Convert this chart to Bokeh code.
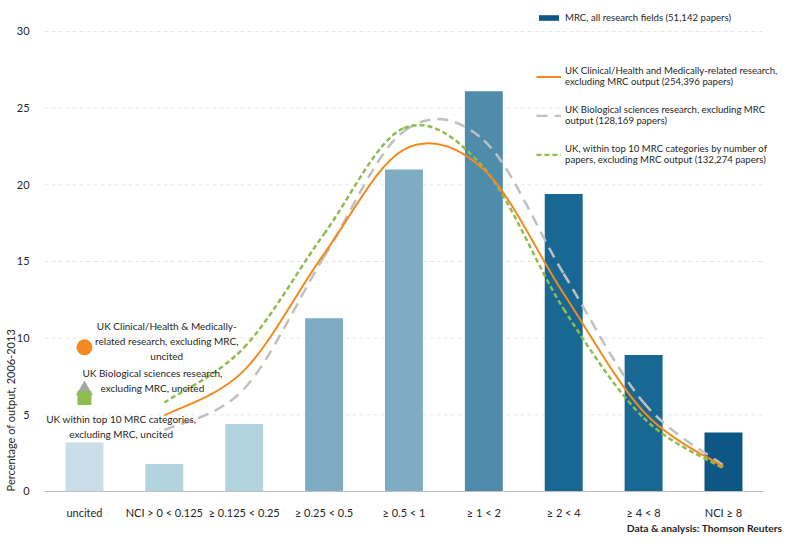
import math
from bokeh.plotting import figure
from bokeh.models import (ColumnDataSource, FixedTicker, Legend, LegendItem, Label, Range1d)
from bokeh.embed import file_html
from bokeh.resources import INLINE

# ---------------- data ----------------
categories = ["uncited", "NCI > 0 < 0.125", "\u2265 0.125 < 0.25", "\u2265 0.25 < 0.5",
              "\u2265 0.5 < 1", "\u2265 1 < 2", "\u2265 2 < 4", "\u2265 4 < 8", "NCI \u2265 8"]
mrc_values = [3.2, 1.8, 4.4, 11.3, 21.0, 26.1, 19.4, 8.9, 3.85]
bar_colors = ["#c8dde6", "#b3d3de", "#b3d3de", "#7eacc3", "#7eacc3",
              "#4f8bab", "#186893", "#186893", "#0d5785"]

clinical_uncited = [9.4]
bio_uncited = [6.6]
top10_uncited = [6.1]

clinical_cited = [4.96, 7.9, 15.5, 22.3, 21.0, 12.9, 5.2, 1.6]
bio_cited = [4.0, 6.7, 15.3, 23.5, 22.9, 14.2, 5.8, 1.7]
top10_cited = [5.8, 9.4, 16.8, 23.7, 21.1, 11.9, 4.8, 1.5]

y_ticks = [0, 5, 10, 15, 20, 25, 30]

legend_labels = [
    "MRC, all research fields (51,142 papers)",
    "UK Clinical/Health and Medically-related research,\nexcluding MRC output (254,396 papers)",
    "UK Biological sciences research, excluding MRC\noutput (128,169 papers)",
    "UK, within top 10 MRC categories by number of\npapers, excluding MRC output (132,274 papers)",
]
uncited_notes = [
    "UK Clinical/Health & Medically-\nrelated research, excluding MRC,\nuncited",
    "UK Biological sciences research,\nexcluding MRC, uncited",
    "UK within top 10 MRC categories,\nexcluding MRC, uncited",
]
y_title = "Percentage of output, 2006-2013"
credit = "Data & analysis: Thomson Reuters"

FONT = "Lato"
TXT = "#262626"

# category axis extent and value axis extent
X_LO, X_HI = -0.5, 8.5
Y_LO, Y_HI = 0, 30

# ---------------- figure ----------------
# The frame covers the whole canvas; axes are pinned at fixed data locations so that
# side texts (axis title, legend, credit) are not clipped.
p = figure(width=784, height=536, x_range=Range1d(-1.051, 8.764), y_range=Range1d(-2.935, 32.02),
           output_backend="svg", toolbar_location=None,
           min_border_left=0, min_border_right=0, min_border_top=0, min_border_bottom=0)
p.outline_line_color = None
p.background_fill_color = "white"
p.border_fill_color = "white"
p.xgrid.visible = False
p.ygrid.visible = False

xa = p.xaxis[0]
xa.fixed_location = Y_LO
xa.bounds = (X_LO, X_HI)
xa.ticker = FixedTicker(ticks=list(range(len(categories))))
xa.major_label_overrides = {i: c for i, c in enumerate(categories)}
xa.axis_line_color = "#bfbfbf"
xa.major_tick_line_color = None
xa.minor_tick_line_color = None
xa.major_label_standoff = 9
xa.major_label_text_font = FONT
xa.major_label_text_font_size = "11px"
xa.major_label_text_color = TXT

ya = p.yaxis[0]
ya.fixed_location = X_LO
ya.bounds = (Y_LO, Y_HI)
ya.ticker = FixedTicker(ticks=y_ticks)
ya.axis_line_color = None
ya.major_tick_line_color = None
ya.minor_tick_line_color = None
ya.major_label_standoff = 9
ya.major_label_text_font = FONT
ya.major_label_text_font_size = "11px"
ya.major_label_text_color = TXT

# faint dashed gridlines across the category extent
grid_y = y_ticks[1:]
p.segment(x0=[X_LO] * len(grid_y), x1=[X_HI] * len(grid_y), y0=grid_y, y1=grid_y,
          line_color="#e6e6e6", line_width=1, line_dash="4 3")

# ---------------- bars ----------------
bar_src = ColumnDataSource(dict(x=list(range(len(categories))), top=mrc_values, color=bar_colors))
bars = p.vbar(x="x", top="top", width=0.475, source=bar_src, fill_color="color", line_color=None)


# ---------------- smoothed curves (Bezier through the data points) ----------------
def bezier_source(xs, ys):
    n = len(xs)
    d = dict(x0=[], y0=[], x1=[], y1=[], cx0=[], cy0=[], cx1=[], cy1=[])
    for i in range(n - 1):
        xm = xs[i - 1] if i > 0 else xs[i]
        ym = ys[i - 1] if i > 0 else ys[i]
        xp = xs[i + 2] if i + 2 < n else xs[i + 1]
        yp = ys[i + 2] if i + 2 < n else ys[i + 1]
        d["x0"].append(xs[i]); d["y0"].append(ys[i])
        d["x1"].append(xs[i + 1]); d["y1"].append(ys[i + 1])
        d["cx0"].append(xs[i] + (xs[i + 1] - xm) / 6.0)
        d["cy0"].append(ys[i] + (ys[i + 1] - ym) / 6.0)
        d["cx1"].append(xs[i + 1] - (xp - xs[i]) / 6.0)
        d["cy1"].append(ys[i + 1] - (yp - ys[i]) / 6.0)
    return ColumnDataSource(d)


cited_x = list(range(1, len(categories)))
bz = dict(x0="x0", y0="y0", x1="x1", y1="y1", cx0="cx0", cy0="cy0", cx1="cx1", cy1="cy1")
bio_r = p.bezier(**bz, source=bezier_source(cited_x, bio_cited), line_color="#c0c0c0",
                 line_width=2.5, line_dash="11 7")
top_r = p.bezier(**bz, source=bezier_source(cited_x, top10_cited), line_color="#8fbc4f",
                 line_width=2.5, line_dash="5 3")
cli_r = p.bezier(**bz, source=bezier_source(cited_x, clinical_cited), line_color="#f28a1f",
                 line_width=2)

# uncited markers
p.scatter(x=[0], y=clinical_uncited, marker="circle", size=16, fill_color="#f28a1f", line_color=None)
p.scatter(x=[0], y=bio_uncited, marker="triangle", size=17, fill_color="#a6a6a6", line_color=None)
p.scatter(x=[0], y=top10_uncited, marker="square", size=14, fill_color="#8fbc4f", line_color=None)

# ---------------- legends ----------------
leg1 = Legend(items=[LegendItem(label=legend_labels[0], renderers=[bars], index=8)],
              location=(536, 513), orientation="vertical")
leg2 = Legend(items=[LegendItem(label=legend_labels[1], renderers=[cli_r]),
                     LegendItem(label=legend_labels[2], renderers=[bio_r]),
                     LegendItem(label=legend_labels[3], renderers=[top_r])],
              location=(536, 371), orientation="vertical")
for lg, gh, sp in ((leg1, 7, 0), (leg2, 3, 17)):
    lg.glyph_width = 25
    lg.glyph_height = gh
    lg.label_height = 12
    lg.label_standoff = 4
    lg.spacing = sp
    lg.padding = 0
    lg.margin = 0
    lg.border_line_color = None
    lg.background_fill_alpha = 0
    lg.label_text_font = FONT
    lg.label_text_font_size = "9.6px"
    lg.label_text_color = TXT
    lg.label_text_line_height = 1.32
    p.add_layout(lg, "center")

# ---------------- text annotations ----------------
note_pos = [(1.03, 11.2), (0.85, 8.15), (0.46, 5.1)]
for txt, (nx, ny) in zip(uncited_notes, note_pos):
    p.add_layout(Label(x=nx, y=ny, text=txt, text_align="center", text_baseline="top",
                       text_font=FONT, text_font_size="10px", text_color=TXT,
                       text_line_height=1.25))

p.add_layout(Label(x=X_LO, y=5.3, x_offset=-34, text=y_title, angle=math.pi / 2,
                   text_align="center", text_baseline="middle",
                   text_font=FONT, text_font_size="11px", text_color=TXT))
p.add_layout(Label(x=X_HI, y=Y_LO, x_offset=19, y_offset=-37, text=credit,
                   text_align="right", text_baseline="middle", text_font_style="bold",
                   text_font=FONT, text_font_size="10.3px", text_color=TXT))

open("out.html", "w").write(file_html(p, INLINE))
